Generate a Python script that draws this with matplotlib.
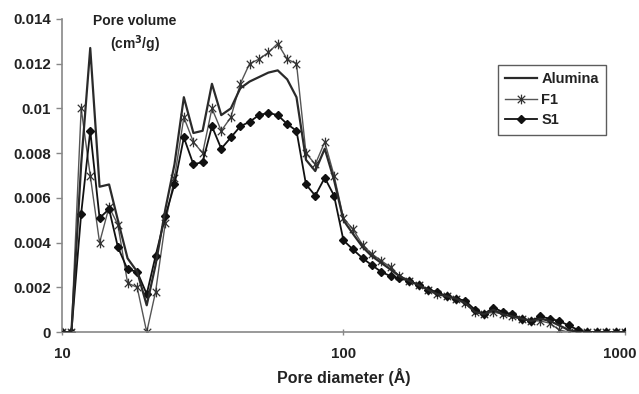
import matplotlib
matplotlib.use("Agg")
import matplotlib.pyplot as plt
import matplotlib.transforms as mtransforms
from matplotlib.path import Path
from matplotlib.ticker import FixedLocator, FixedFormatter, NullLocator

plt.rcParams['font.family'] = ['Liberation Sans', 'DejaVu Sans']
plt.rcParams['font.weight'] = 'bold'

diameter = [10, 10.8, 11.7, 12.6, 13.6, 14.7, 15.8, 17.1, 18.5, 20.0,
            21.5, 23.3, 25.1, 27.1, 29.3, 31.6, 34.1, 36.8, 39.8, 43.0,
            46.4, 50.1, 54.1, 58.4, 63.1, 68.1, 73.6, 79.4, 85.8, 92.6,
            100, 108, 117, 126, 136, 147, 158, 171, 185, 200,
            215, 233, 251, 271, 293, 316, 341, 368, 398, 430,
            464, 501, 541, 584, 631, 681, 736, 794, 858, 926, 1000]

alumina = [0, 0, 0.0075, 0.0127, 0.0065, 0.0066, 0.0050, 0.0033, 0.0027, 0.0012,
           0.0030, 0.0055, 0.0075, 0.0105, 0.0089, 0.0090, 0.0111, 0.0097, 0.0100, 0.0109,
           0.0112, 0.0114, 0.0116, 0.0117, 0.0113, 0.0105, 0.0077, 0.0072, 0.0082, 0.0068,
           0.0050, 0.0044, 0.0038, 0.0034, 0.0031, 0.0028, 0.0025, 0.0023, 0.0021, 0.0019,
           0.0017, 0.0016, 0.0015, 0.0013, 0.0009, 0.0008, 0.0010, 0.0008, 0.0007, 0.0006,
           0.0005, 0.0006, 0.0005, 0.0003, 0.0001, 0, 0, 0, 0, 0, 0]

f1 = [0, 0, 0.0100, 0.0070, 0.0040, 0.0056, 0.0048, 0.0022, 0.0020, 0.0000,
      0.0018, 0.0049, 0.0069, 0.0096, 0.0085, 0.0080, 0.0100, 0.0090, 0.0096, 0.0111,
      0.0120, 0.0122, 0.0125, 0.0129, 0.0122, 0.0120, 0.0080, 0.0075, 0.0085, 0.0070,
      0.0051, 0.0046, 0.0039, 0.0035, 0.0032, 0.0029, 0.0025, 0.0023, 0.0021, 0.0019,
      0.0017, 0.0016, 0.0015, 0.0013, 0.0009, 0.0008, 0.0009, 0.0008, 0.0007, 0.0006,
      0.0005, 0.0005, 0.0004, 0.0001, 0, 0, 0, 0, 0, 0, 0]

s1 = [0, 0, 0.0053, 0.0090, 0.0051, 0.0055, 0.0038, 0.0028, 0.0027, 0.0017,
      0.0034, 0.0052, 0.0066, 0.0087, 0.0075, 0.0076, 0.0092, 0.0082, 0.0087, 0.0092,
      0.0094, 0.0097, 0.0098, 0.0097, 0.0093, 0.0090, 0.0066, 0.0061, 0.0069, 0.0061,
      0.0041, 0.0037, 0.0033, 0.0030, 0.0027, 0.0025, 0.0024, 0.0023, 0.0021, 0.0019,
      0.0018, 0.0016, 0.0015, 0.0014, 0.0010, 0.0008, 0.0011, 0.0009, 0.0008, 0.0006,
      0.0005, 0.0007, 0.0006, 0.0005, 0.0003, 0.0001, 0, 0, 0, 0, 0]

yticks = [0, 0.002, 0.004, 0.006, 0.008, 0.01, 0.012, 0.014]
ytick_labels = ['0', '0.002', '0.004', '0.006', '0.008', '0.01', '0.012', '0.014']
xticks = [10, 100, 1000]
xtick_labels = ['10', '100', '1000']

# Excel-style star marker: X plus vertical bar
star = Path([(-1, -1), (1, 1), (-1, 1), (1, -1), (0, -1.3), (0, 1.3)],
            [Path.MOVETO, Path.LINETO, Path.MOVETO, Path.LINETO, Path.MOVETO, Path.LINETO])

fig = plt.figure(figsize=(6.39, 3.94), dpi=100)
ax = fig.add_axes([0.097, 0.157, 0.881, 0.795])

ax.plot(diameter, alumina, color='#2a2a2a', lw=1.6, label='Alumina', zorder=3)
ax.plot(diameter, f1, color='#555555', lw=1.0, marker=star, markersize=7,
        markeredgewidth=0.9, markeredgecolor='#333333', label='F1', zorder=2)
ax.plot(diameter, s1, color='#111111', lw=1.3, marker='D', markersize=4.5,
        markerfacecolor='#111111', markeredgecolor='#111111', label='S1', zorder=2)

ax.set_xscale('log')
ax.set_xlim(10, 1000)
ax.set_ylim(0, 0.014)
ax.xaxis.set_major_locator(FixedLocator(xticks))
ax.xaxis.set_major_formatter(FixedFormatter(xtick_labels))
ax.xaxis.set_minor_locator(NullLocator())
ax.yaxis.set_major_locator(FixedLocator(yticks))
ax.yaxis.set_major_formatter(FixedFormatter(ytick_labels))

for s in ['top', 'right']:
    ax.spines[s].set_visible(False)
for s in ['left', 'bottom']:
    ax.spines[s].set_color('#888888')
    ax.spines[s].set_linewidth(1.2)

ax.tick_params(axis='y', direction='out', length=4, width=1, color='#888888',
               labelsize=10.8, pad=4)
ax.tick_params(axis='x', direction='inout', length=5, width=1, color='#888888',
               labelsize=10.8, pad=8)
for lbl in ax.get_xticklabels() + ax.get_yticklabels():
    lbl.set_fontweight('bold')
    lbl.set_color('#222222')

# nudge the last x tick label left so it stays inside the figure
last = ax.get_xticklabels()[-1]
last.set_transform(last.get_transform() +
                   mtransforms.ScaledTranslation(-5 / 100, 0, fig.dpi_scale_trans))

ax.set_xlabel('Pore diameter (Å)', fontsize=11.5, fontweight='bold', color='#222222', labelpad=5)

fig.text(0.211, 0.912, 'Pore volume\n(cm$^3$/g)', ha='center', va='center',
         fontsize=10, fontweight='bold', color='#222222', linespacing=1.35)

leg = ax.legend(loc='upper left', bbox_to_anchor=(0.774, 0.853), borderaxespad=0,
                frameon=True, fancybox=False, fontsize=10.5, handlelength=2.2,
                borderpad=0.5, labelspacing=0.45, handletextpad=0.3)
leg.get_frame().set_edgecolor('#333333')
leg.get_frame().set_linewidth(1.0)
for t in leg.get_texts():
    t.set_fontweight('bold')
    t.set_color('#222222')

fig.savefig('out.png', dpi=100)
